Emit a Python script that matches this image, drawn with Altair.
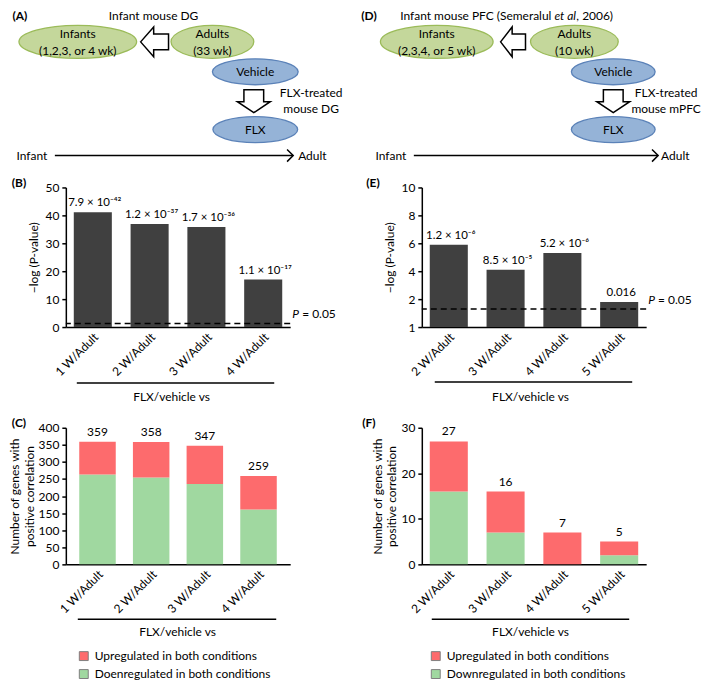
import altair as alt
import pandas as pd

FONT = "Lato"
FS = 12
DARK = "#404040"
RED = "#fd6b6d"
GREEN = "#a0d8a0"
ELL_FILL = {"green": "#c4d79b", "blue": "#95b3d7"}
ELL_EDGE = {"green": "#9bbb59", "blue": "#5b82b8"}

# ---------------- data ----------------
# Panel B
b_cats = ["1 W/Adult", "2 W/Adult", "3 W/Adult", "4 W/Adult"]
b_vals = [41.1, 36.9, 35.8, 17.0]
b_labels = ["7.9 × 10⁻⁴²", "1.2 × 10⁻³⁷", "1.7 × 10⁻³⁶", "1.1 × 10⁻¹⁷"]
b_ticks = [0, 10, 20, 30, 40, 50]
# Panel E
e_cats = ["2 W/Adult", "3 W/Adult", "4 W/Adult", "5 W/Adult"]
e_vals = [5.9, 4.1, 5.3, 1.8]
e_labels = ["1.2 × 10⁻⁶", "8.5 × 10⁻⁵", "5.2 × 10⁻⁶", "0.016"]
e_ticks = [0, 2, 4, 6, 8, 10]
p_threshold = 1.3
# Panel C
c_down = [263, 254, 235, 161]
c_up = [96, 104, 112, 98]
c_total = [359, 358, 347, 259]
c_names = ["Upregulated in both conditions", "Doenregulated in both conditions"]
c_ticks = [0, 50, 100, 150, 200, 250, 300, 350, 400]
# Panel F
f_down = [16, 7, 0, 2]
f_up = [11, 9, 7, 3]
f_total = [27, 16, 7, 5]
f_names = ["Upregulated in both conditions", "Downregulated in both conditions"]
f_ticks = [0, 10, 20, 30]

# Schematic A (layout coordinates)
a_nodes = {
    "label": ["Infants", "Adults", "Vehicle", "FLX"],
    "x": [72, 207, 250, 250], "y": [41, 41, 71, 129],
    "w": [118, 83, 86, 85], "h": [33, 33, 26, 26],
    "kind": ["green", "green", "blue", "blue"],
}
a_texts = {
    "t": ["Infant mouse DG", "Infants", "(1,2,3, or 4 wk)", "Adults", "(33 wk)", "Vehicle", "FLX",
          "FLX-treated", "mouse DG", "Infant"],
    "x": [148, 72, 72, 207, 207, 250, 250, 306, 306, 26],
    "y": [15, 33, 50, 33, 50, 71, 129, 92, 108, 155],
}
a_left_texts = {"t": ["Adult"], "x": [293], "y": [155]}
a_right_texts = {"t": [], "x": [], "y": []}
a_bold = {"t": ["(A)"], "x": [14], "y": [15]}
a_italic = {"t": [], "x": [], "y": []}
a_block_left = {"x": [149], "y": [41], "w": [28], "h": [30]}
a_block_down = {"x": [248.5], "y": [100.5], "w": [33], "h": [23]}
a_line = {"x": [49], "x2": [288], "y": [155]}
a_anchor = {"x": [3], "y": [9]}

# Schematic D
d_nodes = {
    "label": ["Infants", "Adults", "Vehicle", "FLX"],
    "x": [437, 575, 614, 614], "y": [41, 41, 71, 129],
    "w": [113, 88, 84, 84], "h": [33, 33, 26, 26],
    "kind": ["green", "green", "blue", "blue"],
}
d_texts = {
    "t": ["Infants", "(2,3,4, or 5 wk)", "Adults", "(10 wk)", "Vehicle", "FLX",
          "FLX-treated", "mouse mPFC", "Infant"],
    "x": [437, 437, 575, 575, 614, 614, 667, 667, 391],
    "y": [33, 50, 33, 50, 71, 129, 92, 108, 155],
}
d_left_texts = {"t": ["Adult", ", 2006)"], "x": [662, 577], "y": [155, 15]}
d_right_texts = {"t": ["Infant mouse PFC (Semeralul"], "x": [552], "y": [15]}
d_bold = {"t": ["(D)"], "x": [369], "y": [15]}
d_italic = {"t": ["et al"], "x": [555], "y": [15]}
d_block_left = {"x": [513.5], "y": [41], "w": [25], "h": [30]}
d_block_down = {"x": [614], "y": [100.5], "w": [33], "h": [23]}
d_line = {"x": [414], "x2": [659], "y": [155]}
d_anchor = {"x": [], "y": []}

PW = 225      # plot width of every panel
TOP = 8       # page offset of the first row
DH = 78       # height of schematic row


def ellipse_path(w, h):
    r = h / w
    return f"M-1,0A1,{r:.3f} 0 1,1 1,0A1,{r:.3f} 0 1,1 -1,0Z"


def left_arrow_path(w, h):
    hw = w / h
    return (f"M{-hw:.3f},0L-0.06,-1L-0.06,-0.52L{hw:.3f},-0.52L{hw:.3f},0.52"
            f"L-0.06,0.52L-0.06,1Z")


def down_arrow_path(w, h):
    hh = h / w
    return (f"M-0.6,{-hh:.3f}L0.6,{-hh:.3f}L0.6,0.03L1,0.03L0,{hh:.3f}L-1,0.03"
            f"L-0.6,0.03Z")


def diagram(x0, nodes, texts, left_texts, right_texts, bold, italic, bl, bd, line, anchor):
    xs = alt.Scale(domain=[x0, x0 + PW], nice=False, zero=False)
    ys = alt.Scale(domain=[TOP, TOP + DH], reverse=True, nice=False, zero=False)

    def X(f):
        return alt.X(f, type="quantitative", scale=xs, axis=None)

    def Y(f):
        return alt.Y(f, type="quantitative", scale=ys, axis=None)

    nd = pd.DataFrame(nodes)
    nd["path"] = [ellipse_path(w, h) for w, h in zip(nd.w, nd.h)]
    nd["size"] = nd.w ** 2
    nd["fill"] = nd.kind.map(ELL_FILL)
    nd["stroke"] = nd.kind.map(ELL_EDGE)
    ell = alt.Chart(nd).mark_point(filled=True, opacity=1, strokeWidth=1.3).encode(
        x=X("x"), y=Y("y"),
        shape=alt.Shape("path:N", scale=None),
        size=alt.Size("size:Q", scale=None),
        fill=alt.Fill("fill:N", scale=None),
        stroke=alt.Stroke("stroke:N", scale=None),
    )
    bld = pd.DataFrame(bl)
    bld["path"] = [left_arrow_path(w, h) for w, h in zip(bld.w, bld.h)]
    bld["size"] = bld.h ** 2
    bdd = pd.DataFrame(bd)
    bdd["path"] = [down_arrow_path(w, h) for w, h in zip(bdd.w, bdd.h)]
    bdd["size"] = bdd.w ** 2
    arrows = []
    for df in (bld, bdd):
        arrows.append(alt.Chart(df).mark_point(filled=True, fill="white", stroke="black",
                                                strokeWidth=1.5, opacity=1).encode(
            x=X("x"), y=Y("y"),
            shape=alt.Shape("path:N", scale=None),
            size=alt.Size("size:Q", scale=None)))
    ld = pd.DataFrame(line)
    rule = alt.Chart(ld).mark_rule(color="black", strokeWidth=1.5).encode(
        x=X("x"), x2="x2", y=Y("y"))
    head = alt.Chart(ld).mark_point(shape="M-1,-1L0,0L-1,1", size=150, color="black",
                                     filled=False, strokeWidth=1.5, opacity=1).encode(
        x=X("x2"), y=Y("y"))

    def txt(d, **kw):
        return alt.Chart(pd.DataFrame(d)).mark_text(font=FONT, fontSize=FS, color="black",
                                                     baseline="middle", **kw).encode(
            x=X("x"), y=Y("y"), text="t:N")

    layers = [ell] + arrows + [rule, head, txt(texts, align="center"),
                                txt(left_texts, align="left"),
                                txt(bold, align="center", fontWeight="bold")]
    if right_texts["t"]:
        layers.append(txt(right_texts, align="right"))
    if italic["t"]:
        layers.append(txt(italic, align="left", fontStyle="italic"))
    if anchor["x"]:
        layers.append(alt.Chart(pd.DataFrame(anchor)).mark_point(size=1, opacity=0, strokeWidth=0).encode(
            x=X("x"), y=Y("y")))
    return alt.layer(*layers).properties(width=PW, height=DH)


def axis_y(ticks, title, label_expr=None, title_pad=4, tlh=None):
    kw = dict(values=ticks, title=title, grid=False, domainColor="black", domainWidth=1.5,
              tickColor="black", tickSize=4, tickWidth=1.5, labelFont=FONT, labelFontSize=FS,
              labelColor="black", titleFont=FONT, titleFontSize=FS, titleFontWeight="normal",
              titleColor="black", titlePadding=title_pad, labelPadding=3, labelOverlap=False)
    if label_expr:
        kw["labelExpr"] = label_expr
    if tlh:
        kw["titleLineHeight"] = tlh
    return alt.Axis(**kw)


def axis_x():
    return alt.Axis(labelAngle=-45, ticks=False, domainColor="black", domainWidth=1.5,
                    labelFont=FONT, labelFontSize=FS, labelColor="black", labelPadding=4,
                    title=None)


def decor(uline, tpos, tag, tagpos):
    one = pd.DataFrame({"a": [0]})
    r = alt.Chart(one).mark_rule(color="black", strokeWidth=1.5).encode(
        x=alt.value(uline[0]), x2=alt.value(uline[1]), y=alt.value(uline[2]))
    t = alt.Chart(one).mark_text(font=FONT, fontSize=FS, color="black",
                                 text="FLX/vehicle vs").encode(
        x=alt.value(tpos[0]), y=alt.value(tpos[1]))
    g = alt.Chart(one).mark_text(font=FONT, fontSize=FS, color="black", fontWeight="bold",
                                 text=tag).encode(
        x=alt.value(tagpos[0]), y=alt.value(tagpos[1]))
    return [r, t, g]


def pval_chart(cats, vals, labels, ymax, ticks, uline, tpos, tag, tagpos, label_expr=None, po=0.14):
    df = pd.DataFrame({"cat": cats, "val": vals, "lab": labels})
    x = alt.X("cat:N", sort=cats, scale=alt.Scale(paddingInner=0.33, paddingOuter=po), axis=axis_x())
    y = alt.Y("val:Q", scale=alt.Scale(domain=[0, ymax], nice=False),
              axis=axis_y(ticks, "−log (P-value)", label_expr))
    base = alt.Chart(df)
    bars = base.mark_bar(color=DARK).encode(x=x, y=y)
    txt = base.mark_text(font=FONT, fontSize=11.5, baseline="bottom", dy=-4, dx=2, color="black").encode(
        x=x, y=y, text="lab:N")
    thr_df = pd.DataFrame({"val": [p_threshold]})
    thr = alt.Chart(thr_df).mark_rule(strokeDash=[6, 4], color="black", strokeWidth=1.5).encode(y=y)
    pt = alt.Chart(thr_df).mark_text(font=FONT, fontSize=FS, fontStyle="italic", align="left",
                                     dy=-9, color="black", text="P").encode(
        x=alt.value(PW + 2), y=y)
    pt2 = alt.Chart(thr_df).mark_text(font=FONT, fontSize=FS, align="left",
                                      dy=-9, color="black", text="= 0.05").encode(
        x=alt.value(PW + 12), y=y)
    return alt.layer(bars, txt, thr, pt, pt2, *decor(uline, tpos, tag, tagpos)).properties(
        width=PW, height=140)


def count_chart(cats, down, up, total, names, ymax, ticks, uline, tpos, leg, pi, po, tag, tagpos):
    rows = []
    for c, d, u in zip(cats, down, up):
        rows.append({"cat": c, "n": d, "cond": names[1], "ord": 0})
        rows.append({"cat": c, "n": u, "cond": names[0], "ord": 1})
    df = pd.DataFrame(rows)
    x = alt.X("cat:N", sort=cats, scale=alt.Scale(paddingInner=pi, paddingOuter=po), axis=axis_x())
    ysc = alt.Scale(domain=[0, ymax], nice=False)
    yax = axis_y(ticks, ["Number of genes with", "positive correlation"], title_pad=2, tlh=15)
    y = alt.Y("n:Q", scale=ysc, stack="zero", axis=yax)
    bars = alt.Chart(df).mark_bar().encode(
        x=x, y=y,
        color=alt.Color("cond:N", scale=alt.Scale(domain=names, range=[RED, GREEN]),
                        legend=alt.Legend(orient="none", legendX=leg[0], legendY=leg[1], title=None,
                                          symbolType="square", symbolSize=80,
                                          symbolStrokeColor="#808080", symbolStrokeWidth=1,
                                          labelFont=FONT, labelFontSize=FS, labelColor="black",
                                          rowPadding=4, labelOffset=5, labelLimit=400)),
        order=alt.Order("ord:Q"))
    tdf = pd.DataFrame({"cat": cats, "n": total})
    txt = alt.Chart(tdf).mark_text(font=FONT, fontSize=FS, baseline="bottom", dy=-3, color="black").encode(
        x=x, y=alt.Y("n:Q", scale=ysc, axis=yax), text="n:Q")
    return alt.layer(bars, txt, *decor(uline, tpos, tag, tagpos)).properties(width=PW, height=137)


diagA = diagram(60, a_nodes, a_texts, a_left_texts, a_right_texts, a_bold, a_italic,
                a_block_left, a_block_down, a_line, a_anchor)
diagD = diagram(422, d_nodes, d_texts, d_left_texts, d_right_texts, d_bold, d_italic,
                d_block_left, d_block_down, d_line, d_anchor)

chartB = pval_chart(b_cats, b_vals, b_labels, 50, b_ticks, (11, 209, 196), (106, 210),
                    "(B)", (-47, -4))
chartE = pval_chart(e_cats, e_vals, e_labels, 10, e_ticks, (13, 211, 195), (109, 210),
                    "(E)", (-49, -4), label_expr="datum.value == 0 ? '1' : datum.label")
chartC = count_chart(b_cats, c_down, c_up, c_total, c_names, 400, c_ticks,
                     (12, 211, 192), (112, 205), (12, 223), 0.32, 0.25, "(C)", (-47, -5))
chartF = count_chart(e_cats, f_down, f_up, f_total, f_names, 30, f_ticks,
                     (10, 208, 192), (109, 205), (8, 223), 0.33, 0.14, "(F)", (-53, -5))

chart = alt.concat(diagA, diagD, chartB, chartE, chartC, chartF, columns=2,
                   spacing={"row": 101, "column": 132}, bounds="flush").resolve_scale(
    x="independent", y="independent", color="independent"
).configure_view(stroke=None).properties(padding=0)

chart.save("out.html", embed_options={"renderer": "svg", "actions": False})
